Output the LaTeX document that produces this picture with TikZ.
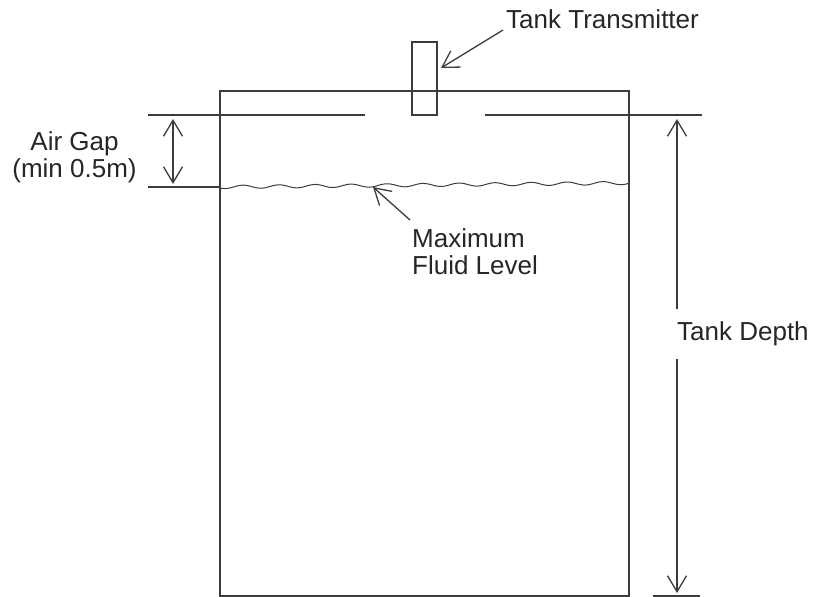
\documentclass[tikz,border=0pt]{standalone}
\usepackage{fontspec}
\setmainfont{Liberation Sans}
\usetikzlibrary{arrows.meta,positioning}
\definecolor{ink}{HTML}{3C3C3C}
\definecolor{txt}{HTML}{262626}
\tikzset{
  wall/.style={draw=ink,line width=1.3pt},
  barb/.style={line width=1.3pt,draw=ink},
  dimarrow/.style={barb,{Straight Barb[length=16pt,width=19pt]}-{Straight Barb[length=16pt,width=19pt]}},
  uparrow/.style={barb,-{Straight Barb[length=16pt,width=19pt]}},
  lbl/.style={text=txt,inner sep=0pt,font=\fontsize{26}{27}\selectfont}
}
\begin{document}
\begin{tikzpicture}[x=1pt,y=-1pt]
   \useasboundingbox (0,0) rectangle (814,597);
   % tank
   \draw[wall] (220,91) rectangle (629,596);
   \node[wall,minimum width=25pt,minimum height=73pt,inner sep=0pt] (tx) at (424.5,78.5) {};
   % reference lines
   \draw[wall] (148,115) -- (365,115);
   \draw[wall] (485,115) -- (702,115);
   \draw[wall] (148,187) -- (220,187);
   \draw[wall] (653,596) -- (700,596);
   \draw[wall,line width=1pt,domain=220:629,samples=300,smooth,variable=\x]
     plot({\x},{187-4*(\x-220)/409+1.6*sin(10*\x)});
   % labels
   \node[lbl,anchor=base west] (txlbl) at (506,28) {Tank Transmitter};
   \node[lbl,align=center] (gap) at (74.5,157) {Air Gap\\(min 0.5m)};
   \node[lbl,align=left,anchor=north west] (level) at (412,228) {Maximum\\Fluid Level};
   \node[lbl,anchor=west,inner xsep=0pt,minimum height=49pt,fill=white] (depth) at (677,334) {Tank Depth};
   % arrows
   \coordinate (txtail) at (503,30);
   \coordinate (txtip) at (441,68);
   \draw[uparrow] (txtail) -- (txtip);
   \coordinate (fltail) at (410,220);
   \coordinate (fltip) at (373,187);
   \draw[uparrow] (fltail) -- (fltip);
   \coordinate (gaptop) at (173,119);
   \coordinate (gapbot) at (173,184);
   \draw[dimarrow] (gaptop) -- (gapbot);
   \coordinate (deptop) at (677,119);
   \coordinate (depbot) at (677,593);
   \draw[uparrow] (depth.north west) -- (deptop);
   \draw[uparrow] (depth.south west) -- (depbot);
  \end{tikzpicture}
\end{document}
